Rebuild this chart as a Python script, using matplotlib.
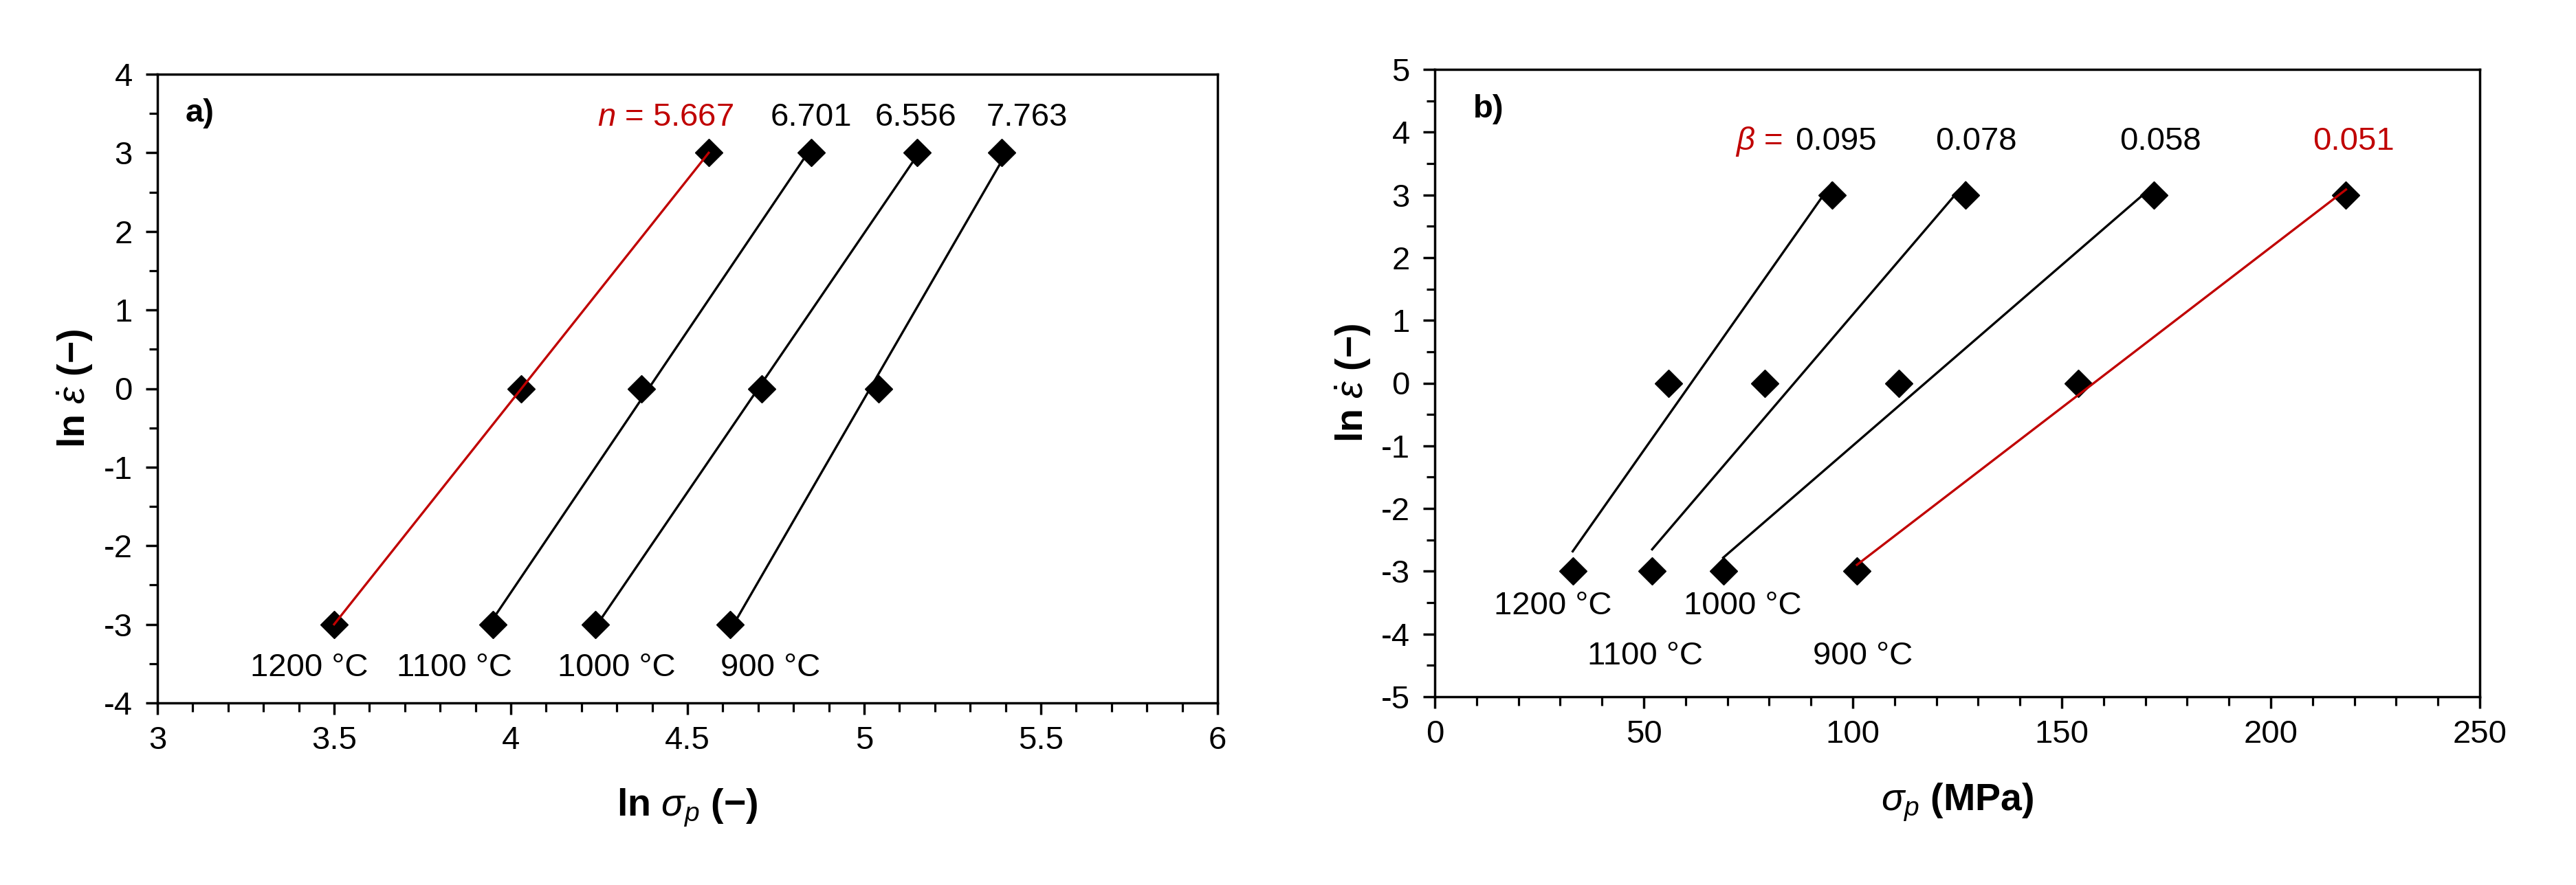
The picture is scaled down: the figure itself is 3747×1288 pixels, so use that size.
import numpy as np
import matplotlib
matplotlib.use("Agg")
import matplotlib.pyplot as plt
from matplotlib.ticker import MultipleLocator, FuncFormatter

plt.rcParams['font.family'] = ['Liberation Sans', 'DejaVu Sans']
plt.rcParams['mathtext.fontset'] = 'custom'
plt.rcParams['mathtext.it'] = 'Liberation Sans:italic'
plt.rcParams['mathtext.rm'] = 'Liberation Sans'
plt.rcParams['mathtext.bf'] = 'Liberation Sans:bold'
plt.rcParams['axes.unicode_minus'] = False

# ---- data ----
temps = ["1200 °C", "1100 °C", "1000 °C", "900 °C"]
ln_rate = [-3, 0, 3]
ln_sigma_1200 = [3.50, 4.03, 4.56]
ln_sigma_1100 = [3.95, 4.37, 4.85]
ln_sigma_1000 = [4.24, 4.71, 5.15]
ln_sigma_900 = [4.62, 5.04, 5.39]
sigma_1200 = [33, 56, 95]
sigma_1100 = [52, 79, 127]
sigma_1000 = [69, 111, 172]
sigma_900 = [101, 154, 218]
n_labels = ["5.667", "6.701", "6.556", "7.763"]
beta_labels = ["0.095", "0.078", "0.058", "0.051"]

RED = '#C00000'
W, H = 3748, 1288
fig = plt.figure(figsize=(W / 100, H / 100), dpi=100)

axA = fig.add_axes([229 / W, 1 - 1023 / H, (1771 - 229) / W, (1023 - 108) / H])
axB = fig.add_axes([2087 / W, 1 - 1014 / H, (3607 - 2087) / W, (1014 - 101) / H])

TICK_FS = 34
LAB_FS = 40
MS = 20


def style(ax):
    for s in ['top', 'bottom', 'left', 'right']:
        ax.spines[s].set_linewidth(2.5)
    ax.tick_params(which='major', direction='out', length=12, width=2.5, labelsize=TICK_FS)
    ax.tick_params(which='minor', direction='out', length=9, width=2.3)
    ax.tick_params(axis='x', which='major', pad=12)
    ax.tick_params(axis='y', which='major', pad=14)
    ax.tick_params(axis='x', which='both', top=False)
    ax.tick_params(axis='y', which='both', right=False)


fmt = FuncFormatter(lambda v, p: f"{v:g}")

# ---- panel a ----
left_sets = [ln_sigma_1200, ln_sigma_1100, ln_sigma_1000, ln_sigma_900]
left_colors = [RED, 'black', 'black', 'black']
for xs, c in zip(left_sets, left_colors):
    xs = np.array(xs, float)
    p = np.polyfit(xs, ln_rate, 1)
    xx = np.array([xs.min(), xs.max()])
    axA.plot(xx, np.polyval(p, xx), color=c, lw=2.4, zorder=3)
    axA.plot(xs, ln_rate, ls='none', marker='D', ms=MS, color='black', zorder=2)

axA.set_xlim(3, 6)
axA.set_ylim(-4, 4)
axA.xaxis.set_major_locator(MultipleLocator(0.5))
axA.xaxis.set_minor_locator(MultipleLocator(0.1))
axA.yaxis.set_major_locator(MultipleLocator(1))
axA.yaxis.set_minor_locator(MultipleLocator(0.5))
axA.xaxis.set_major_formatter(fmt)
axA.yaxis.set_major_formatter(fmt)
style(axA)
axA.set_xlabel(r'ln $\sigma_p$ (−)', fontsize=LAB_FS, fontweight='bold', va='center')
axA.set_ylabel(r'ln $\dot{\varepsilon}$ (−)', fontsize=LAB_FS, fontweight='bold', va='center')
axA.xaxis.set_label_coords(0.5, -0.167)
axA.yaxis.set_label_coords(-0.078, 0.5)

axA.text(3.08, 3.5, 'a)', fontsize=TICK_FS, fontweight='bold', ha='left', va='center')
n_pos = [4.63, 4.85, 5.145, 5.46]
axA.text(n_pos[0], 3.45, r'$n$ = ' + n_labels[0], color=RED, fontsize=TICK_FS, ha='right', va='center')
for xp, lab in zip(n_pos[1:], n_labels[1:]):
    axA.text(xp, 3.45, lab, fontsize=TICK_FS, ha='center', va='center')
t_pos_a = [3.43, 3.84, 4.30, 4.735]
for xp, lab in zip(t_pos_a, temps):
    axA.text(xp, -3.55, lab, fontsize=TICK_FS, ha='center', va='center')

# ---- panel b ----
right_sets = [sigma_1200, sigma_1100, sigma_1000, sigma_900]
right_colors = ['black', 'black', 'black', RED]
for xs, c in zip(right_sets, right_colors):
    xs = np.array(xs, float)
    p = np.polyfit(xs, ln_rate, 1)
    xx = np.array([xs.min(), xs.max()])
    axB.plot(xx, np.polyval(p, xx), color=c, lw=2.4, zorder=3)
    axB.plot(xs, ln_rate, ls='none', marker='D', ms=MS, color='black', zorder=2)

axB.set_xlim(0, 250)
axB.set_ylim(-5, 5)
axB.xaxis.set_major_locator(MultipleLocator(50))
axB.xaxis.set_minor_locator(MultipleLocator(10))
axB.yaxis.set_major_locator(MultipleLocator(1))
axB.yaxis.set_minor_locator(MultipleLocator(0.5))
axB.yaxis.set_major_formatter(fmt)
style(axB)
axB.set_xlabel(r'$\sigma_p$ (MPa)', fontsize=LAB_FS, fontweight='bold', va='center')
axB.set_ylabel(r'ln $\dot{\varepsilon}$ (−)', fontsize=LAB_FS, fontweight='bold', va='center')
axB.xaxis.set_label_coords(0.5, -0.168)
axB.yaxis.set_label_coords(-0.078, 0.5)

axB.text(9.2, 4.36, 'b)', fontsize=TICK_FS, fontweight='bold', ha='left', va='center')
b_pos = [105.7, 129.5, 173.6, 219.8]
YB = 3.85
axB.text(b_pos[0], YB, beta_labels[0], fontsize=TICK_FS, ha='right', va='center')
axB.text(71.9, YB, r'$\beta$ =', color=RED, fontsize=TICK_FS, ha='left', va='center')
axB.text(b_pos[1], YB, beta_labels[1], fontsize=TICK_FS, ha='center', va='center')
axB.text(b_pos[2], YB, beta_labels[2], fontsize=TICK_FS, ha='center', va='center')
axB.text(b_pos[3], YB, beta_labels[3], fontsize=TICK_FS, ha='center', va='center', color=RED)
t_pos_b = [(28.2, -3.55), (50.3, -4.35), (73.7, -3.55), (102.4, -4.35)]
for (xp, yp), lab in zip(t_pos_b, temps):
    axB.text(xp, yp, lab, fontsize=TICK_FS, ha='center', va='center')

fig.savefig('out.png', dpi=100, facecolor='white')
